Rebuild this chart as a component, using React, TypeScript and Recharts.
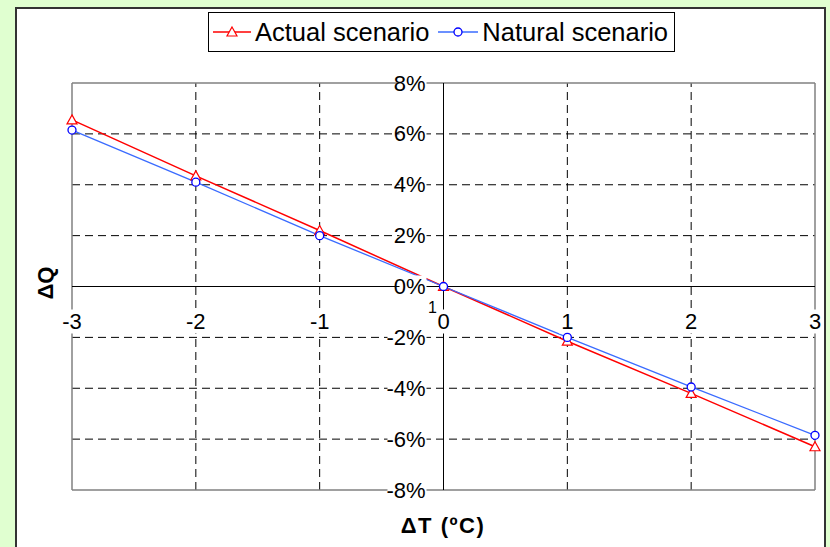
import React from 'react';
import {
  LineChart,
  Line,
  XAxis,
  YAxis,
  ReferenceLine,
  ReferenceDot,
  Legend,
} from 'recharts';

const deltaT = [-3, -2, -1, 0, 1, 2, 3];
const actualScenario = [6.55, 4.35, 2.2, 0, -2.15, -4.2, -6.3];
const naturalScenario = [6.15, 4.1, 2.0, 0, -2.0, -3.95, -5.85];
const xTicks = [-3, -2, -1, 0, 1, 2, 3];
const yTicks = [-8, -6, -4, -2, 0, 2, 4, 6, 8];
const seriesNames = ['Actual scenario', 'Natural scenario'];

const data = deltaT.map((t, i) => ({
  t,
  actual: actualScenario[i],
  natural: naturalScenario[i],
}));

const FONT = '"Liberation Sans", Arial, sans-serif';
const RED = '#FF0000';
const BLUE_LINE = '#3A6BFF';
const BLUE_DOT = '#0000FF';
const X_MIN = xTicks[0];
const X_MAX = xTicks[xTicks.length - 1];
const Y_MIN = yTicks[0];
const Y_MAX = yTicks[yTicks.length - 1];

const Triangle = (props: any) => {
  const { cx, cy } = props;
  if (cx == null || cy == null) return null;
  return (
    <path
      key={`tri-${props.index}`}
      d={`M${cx},${cy - 5} L${cx + 5},${cy + 4} L${cx - 5},${cy + 4} Z`}
      fill="#fff"
      stroke={RED}
      strokeWidth={1.2}
    />
  );
};

const Circle = (props: any) => {
  const { cx, cy } = props;
  if (cx == null || cy == null) return null;
  return (
    <circle
      key={`circ-${props.index}`}
      cx={cx}
      cy={cy}
      r={4}
      fill="#fff"
      stroke={BLUE_DOT}
      strokeWidth={1.3}
    />
  );
};

const center = (viewBox: any) => ({
  x: viewBox.x + viewBox.width / 2,
  y: viewBox.y + viewBox.height / 2,
});

// y tick label: right-aligned just left of the vertical zero axis
const yLabel = (text: string) => (props: any) => {
  const c = center(props.viewBox);
  const w = text.length * 12 + 2;
  const right = c.x - 18;
  return (
    <g>
      <rect x={right - w} y={c.y - 11} width={w + 1} height={22} fill="#fff" />
      <text x={right} y={c.y} textAnchor="end" dominantBaseline="central" fontSize={22} fontFamily={FONT} fill="#000">
        {text}
      </text>
    </g>
  );
};

// x tick label: centred below the horizontal zero axis
const xLabel = (text: string) => (props: any) => {
  const c = center(props.viewBox);
  const w = text.length * 12.5 + 4;
  const y = c.y + 35;
  return (
    <g>
      <rect x={c.x - w / 2} y={y - 12} width={w} height={24} fill="#fff" />
      <text x={c.x} y={y} textAnchor="middle" dominantBaseline="central" fontSize={22} fontFamily={FONT} fill="#000">
        {text}
      </text>
    </g>
  );
};

const stray = (props: any) => {
  const c = center(props.viewBox);
  return (
    <text x={c.x - 11} y={c.y + 21} textAnchor="middle" dominantBaseline="central" fontSize={16} fontFamily={FONT} fill="#000">
      1
    </text>
  );
};

const LegendBox = () => (
  <div
    style={{
      display: 'flex',
      alignItems: 'center',
      height: 38,
      border: '1px solid #000',
      background: '#fff',
      fontFamily: FONT,
      fontSize: 25.5,
      color: '#000',
      padding: '0 6px 0 3px',
      whiteSpace: 'nowrap',
      boxSizing: 'content-box',
    }}
  >
    <svg width={40} height={20}>
      <line x1={1} y1={10} x2={39} y2={10} stroke={RED} strokeWidth={1.5} />
      <path d="M20,5 L25,14 L15,14 Z" fill="#fff" stroke={RED} strokeWidth={1.2} />
    </svg>
    <span style={{ marginLeft: 3 }}>{seriesNames[0]}</span>
    <svg width={42} height={20} style={{ marginLeft: 8 }}>
      <line x1={1} y1={10} x2={41} y2={10} stroke={BLUE_LINE} strokeWidth={1.3} />
      <circle cx={21} cy={10} r={4} fill="#fff" stroke={BLUE_DOT} strokeWidth={1.3} />
    </svg>
    <span style={{ marginLeft: 3 }}>{seriesNames[1]}</span>
  </div>
);

export default function App() {
  return (
    <div style={{ position: 'absolute', left: 0, top: 0, width: 830, height: 547, background: '#E0FFD0', overflow: 'hidden' }}>
      <div
        style={{
          position: 'absolute',
          left: 15,
          top: 7,
          width: 811,
          height: 560,
          border: '2px solid #333',
          background: '#fff',
          boxSizing: 'border-box',
        }}
      />
      <div style={{ position: 'absolute', left: 0, top: 0 }}>
        <LineChart width={830} height={547} data={data} margin={{ top: 83, right: 15, bottom: 57, left: 72 }}>
          <XAxis type="number" dataKey="t" domain={[X_MIN, X_MAX]} ticks={xTicks} hide />
          <YAxis type="number" domain={[Y_MIN, Y_MAX]} ticks={yTicks} hide />
          {/* dashed interior grid */}
          {xTicks
            .filter((v) => v !== 0 && v !== X_MIN && v !== X_MAX)
            .map((v) => (
              <ReferenceLine key={`gx${v}`} x={v} stroke="#000" strokeDasharray="8 5" />
            ))}
          {yTicks
            .filter((v) => v !== 0 && v !== Y_MIN && v !== Y_MAX)
            .map((v) => (
              <ReferenceLine key={`gy${v}`} y={v} stroke="#000" strokeDasharray="8 5" />
            ))}
          {/* plot frame */}
          <ReferenceLine x={X_MIN} stroke="#808080" strokeWidth={1.5} />
          <ReferenceLine x={X_MAX} stroke="#808080" strokeWidth={1.5} />
          <ReferenceLine y={Y_MIN} stroke="#808080" strokeWidth={1.5} />
          <ReferenceLine y={Y_MAX} stroke="#808080" strokeWidth={1.5} />
          {/* zero axes */}
          <ReferenceLine x={0} stroke="#000" strokeWidth={1} />
          <ReferenceLine y={0} stroke="#000" strokeWidth={1} />
          <Line
            type="linear"
            dataKey="actual"
            name={seriesNames[0]}
            stroke={RED}
            strokeWidth={1.5}
            dot={Triangle}
            activeDot={false}
            isAnimationActive={false}
          />
          <Line
            type="linear"
            dataKey="natural"
            name={seriesNames[1]}
            stroke={BLUE_LINE}
            strokeWidth={1.3}
            dot={Circle}
            activeDot={false}
            isAnimationActive={false}
          />
          {yTicks.map((v) => (
            <ReferenceDot key={`ly${v}`} x={0} y={v} r={1} fill="none" stroke="none" label={yLabel(`${v}%`)} />
          ))}
          {xTicks.map((v) => (
            <ReferenceDot key={`lx${v}`} x={v} y={0} r={1} fill="none" stroke="none" label={xLabel(`${v}`)} />
          ))}
          <ReferenceDot x={0} y={0} r={1} fill="none" stroke="none" label={stray} />
          <Legend
            layout="horizontal"
            verticalAlign="middle"
            content={<LegendBox />}
            wrapperStyle={{ top: 12, left: 208, width: 'auto' }}
          />
        </LineChart>
      </div>
      <svg width={830} height={547} style={{ position: 'absolute', left: 0, top: 0, pointerEvents: 'none' }}>
        <text
          x={443}
          y={525}
          textAnchor="middle"
          dominantBaseline="central"
          fontSize={22}
          fontWeight="bold"
          letterSpacing={1.5}
          fontFamily={FONT}
        >
          ΔT (ºC)
        </text>
        <text
          transform="translate(45,283) rotate(-90)"
          textAnchor="middle"
          dominantBaseline="central"
          fontSize={22}
          fontWeight="bold"
          fontFamily={FONT}
        >
          ΔQ
        </text>
      </svg>
    </div>
  );
}
